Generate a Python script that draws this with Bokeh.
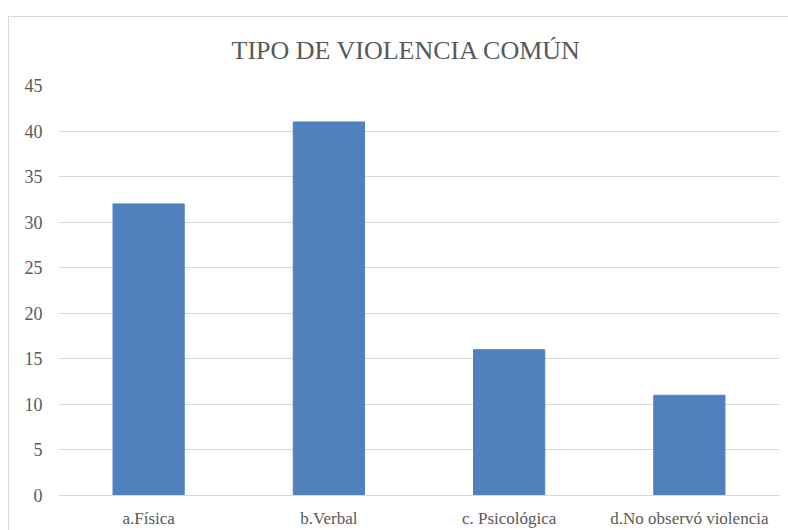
from bokeh.plotting import figure
from bokeh.models import FixedTicker
from bokeh.embed import file_html
from bokeh.resources import INLINE

categories = ["a.Física", "b.Verbal", "c. Psicológica", "d.No observó violencia"]
values = [32, 41, 16, 11]
y_ticks = [0, 5, 10, 15, 20, 25, 30, 35, 40, 45]

FONT = "Liberation Serif"
GREY = "#595959"
LINE = "#d9d9d9"

bg = (f"linear-gradient({LINE},{LINE}) 8px 16px / 1px 100% no-repeat, "
      f"linear-gradient({LINE},{LINE}) 8px 16px / 100% 1px no-repeat, white")

p = figure(
    x_range=categories, y_range=(0, 45),
    width=788, height=530,
    output_backend="svg", toolbar_location=None,
    title="TIPO DE VIOLENCIA COMÚN",
    min_border_left=58, min_border_right=9,
    min_border_top=85, min_border_bottom=35,
    styles={"background": bg},
)

p.vbar(x=categories, top=values, width=0.395, color="#4f81bd")

p.title.align = "left"
p.title.offset = 173
p.title.text_font = FONT
p.title.text_font_size = "26px"
p.title.text_font_style = "normal"
p.title.text_color = GREY
p.title.standoff = 41

p.outline_line_color = None
p.background_fill_color = "white"
p.border_fill_alpha = 0

p.xgrid.grid_line_color = None
p.ygrid.grid_line_color = LINE
p.ygrid.grid_line_width = 1

p.yaxis.ticker = FixedTicker(ticks=y_ticks)
p.yaxis.axis_line_color = None
p.yaxis.major_tick_line_color = None
p.yaxis.minor_tick_line_color = None
p.yaxis.major_label_standoff = 10
p.yaxis.major_label_text_font = FONT
p.yaxis.major_label_text_font_size = "18px"
p.yaxis.major_label_text_color = GREY

p.xaxis.axis_line_color = LINE
p.xaxis.major_tick_line_color = None
p.xaxis.minor_tick_line_color = None
p.xaxis.major_label_standoff = 7
p.xaxis.major_label_text_font = FONT
p.xaxis.major_label_text_font_size = "17px"
p.xaxis.major_label_text_color = GREY

p.x_range.range_padding = 0

open("out.html", "w").write(file_html(p, INLINE))
